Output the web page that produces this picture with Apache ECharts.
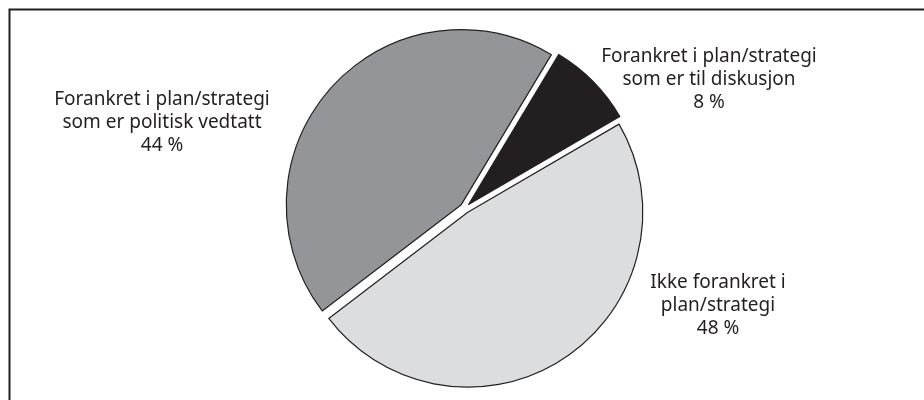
<!DOCTYPE html>
<html>
<head>
<meta charset="utf-8">
<script src="https://cdn.jsdelivr.net/npm/echarts@6/dist/echarts.min.js"></script>
<style>
  html, body { margin: 0; padding: 0; background: #ffffff; }
  #chart { width: 924px; height: 400px; }
</style>
</head>
<body>
<div id="chart"></div>
<script>
// Share of answers by how the work is anchored in plans/strategies
const categories = [
  'Forankret i plan/strategi\nsom er til diskusjon',
  'Ikke forankret i\nplan/strategi',
  'Forankret i plan/strategi\nsom er politisk vedtatt'
];
const values = [8, 48, 44];
const colors = ['#231f20', '#dcddde', '#939598'];

// Centre of each slice's text block, in pixels
const labelSpots = [
  [709, 80],
  [718, 306],
  [162, 123]
];

const chart = echarts.init(document.getElementById('chart'), null, { renderer: 'canvas' });

// Slice captions: name plus the slice's own value
const captions = categories.map((name, i) => ({
  type: 'text',
  x: labelSpots[i][0],
  y: labelSpots[i][1],
  silent: true,
  style: {
    text: name + '\n' + values[i] + ' %',
    fill: '#231f20',
    font: '19px "Noto Sans"',
    lineHeight: 23,
    align: 'center',
    verticalAlign: 'middle'
  }
}));

chart.setOption({
  animation: false,
  backgroundColor: '#ffffff',
  graphic: [{
    type: 'rect',
    shape: { x: 9.5, y: 9.5, width: 1000, height: 500 },
    style: { fill: 'none', stroke: '#231f20', lineWidth: 2 },
    silent: true
  }].concat(captions),
  series: [{
    type: 'pie',
    center: [465, 208],
    radius: 175,
    startAngle: 59,
    clockwise: true,
    selectedMode: 'multiple',
    selectedOffset: 5,
    emphasis: { disabled: true },
    itemStyle: { borderColor: '#231f20', borderWidth: 1.2 },
    label: { show: false },
    labelLine: { show: false },
    data: categories.map((name, i) => ({
      name: name,
      value: values[i],
      selected: true,
      itemStyle: { color: colors[i] }
    }))
  }]
});
</script>
</body>
</html>
